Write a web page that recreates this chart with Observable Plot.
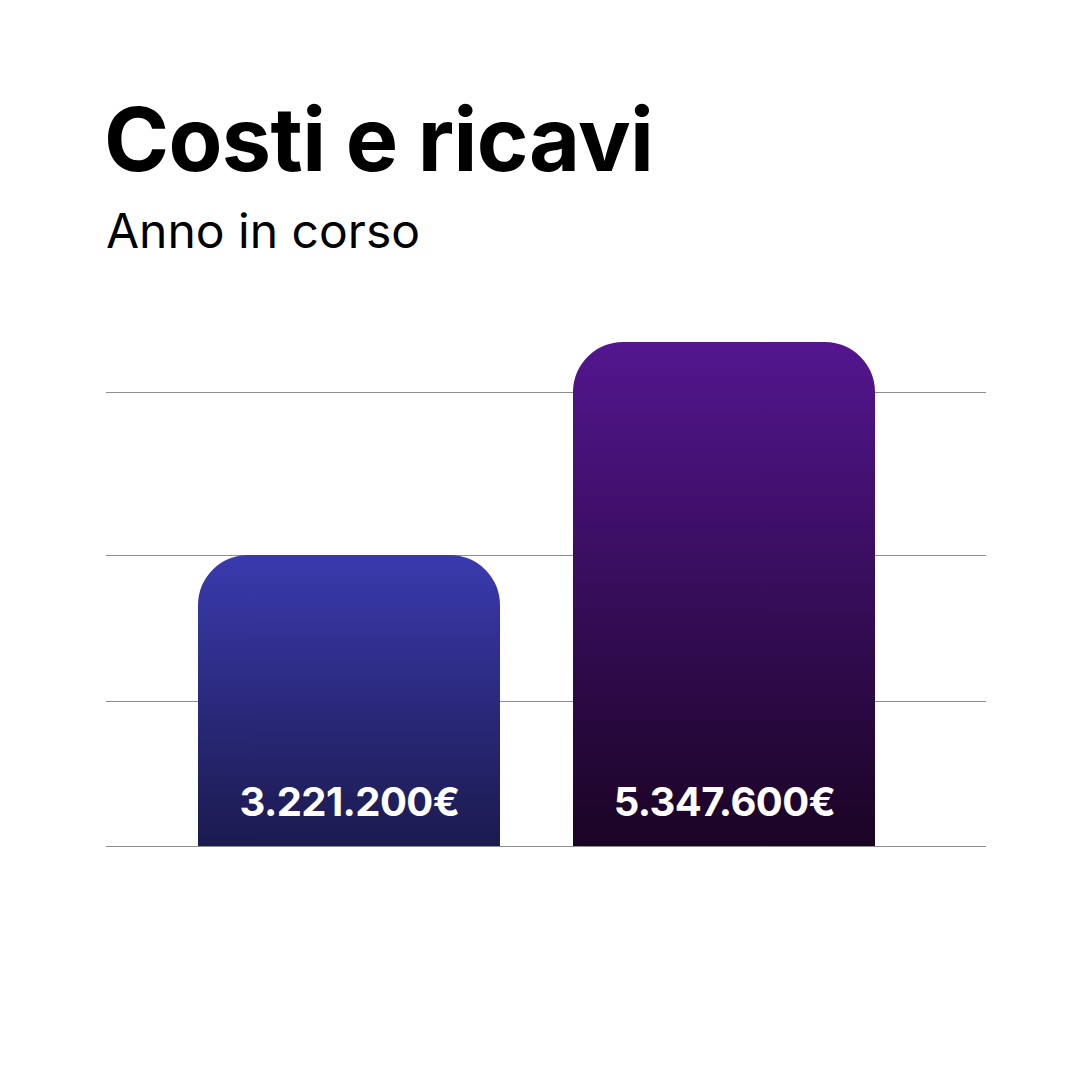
<!DOCTYPE html>
<html>
<head>
<meta charset="utf-8">
<script src="https://cdn.jsdelivr.net/npm/d3@7"></script>
<script src="https://cdn.jsdelivr.net/npm/@observablehq/plot@0.6"></script>
<style>
  html, body { margin: 0; padding: 0; background: #ffffff; }
  #page { position: relative; width: 1074px; height: 1074px; overflow: hidden; font-family: Inter, "Noto Sans", sans-serif; }
  #header { position: relative; height: 280px; }
  #title { position: absolute; left: 104px; top: 95px; font-size: 88px; line-height: 1; font-weight: 700; color: #000; letter-spacing: -0.6px; white-space: nowrap; }
  #subtitle { position: absolute; left: 106px; top: 207px; font-size: 48px; line-height: 1; font-weight: 400; color: #000; white-space: nowrap; }
  #chart svg { display: block; }
</style>
</head>
<body>
<div id="page">
  <div id="header">
    <div id="title">Costi e ricavi</div>
    <div id="subtitle">Anno in corso</div>
  </div>
  <div id="chart"></div>
</div>
<script>
// ---- data ----
const categories = ["Costi", "Ricavi"];
const values = [3221200, 5347600];
const gridValues = [316000, 1764000, 3221200, 4848000];
const topColors = ["#3a3aae", "#53168f"];
const bottomColors = ["#1b1a4e", "#1a0424"];

// scale baseline (the reference's bars rise from this value)
const yBase = 316000;

const itLocale = d3.formatLocale({decimal: ",", thousands: ".", grouping: [3], currency: ["", "€"]});
const fmt = itLocale.format(",.0f");

const data = categories.map((c, i) => ({
  cat: c,
  value: values[i],
  mid: (yBase + values[i]) / 2,
  fill: `url(#barGrad${i})`,
  label: fmt(values[i]) + "€"
}));

const svg = Plot.plot({
  width: 1074,
  height: 794,
  marginLeft: 106,
  marginRight: 88,
  marginTop: 62,
  marginBottom: 228,
  x: {domain: categories, range: [197, 876], paddingInner: 0.1934, paddingOuter: 0, axis: null},
  y: {domain: [yBase, d3.max(values)], axis: null},
  color: {type: "identity"},
  marks: [
    Plot.ruleY(gridValues, {stroke: "#8c8c8c", strokeWidth: 1}),
    Plot.barY(data, {x: "cat", y1: yBase, y2: "value", fill: "fill", rx: 50, ry: 50}),
    Plot.barY(data, {x: "cat", y1: yBase, y2: "mid", fill: "fill"}),
    Plot.text(data, {
      x: "cat", y: yBase, text: "label", fill: "#ffffff",
      fontSize: 40, fontWeight: 700, fontFamily: "Inter, 'Noto Sans', sans-serif",
      textAnchor: "middle", lineAnchor: "bottom", dy: -31
    })
  ]
});

// gradients in user space, from the plot's own y scale
const yScale = svg.scale("y");
const defs = d3.select(svg).insert("defs", ":first-child");
data.forEach((d, i) => {
  const g = defs.append("linearGradient")
    .attr("id", `barGrad${i}`)
    .attr("gradientUnits", "userSpaceOnUse")
    .attr("x1", 0).attr("x2", 0)
    .attr("y1", yScale.apply(d.value))
    .attr("y2", yScale.apply(yBase));
  g.append("stop").attr("offset", "0%").attr("stop-color", topColors[i]);
  g.append("stop").attr("offset", "100%").attr("stop-color", bottomColors[i]);
});

d3.select(svg).selectAll("text").style("letter-spacing", "-0.6px");
document.getElementById("chart").appendChild(svg);
</script>
</body>
</html>
